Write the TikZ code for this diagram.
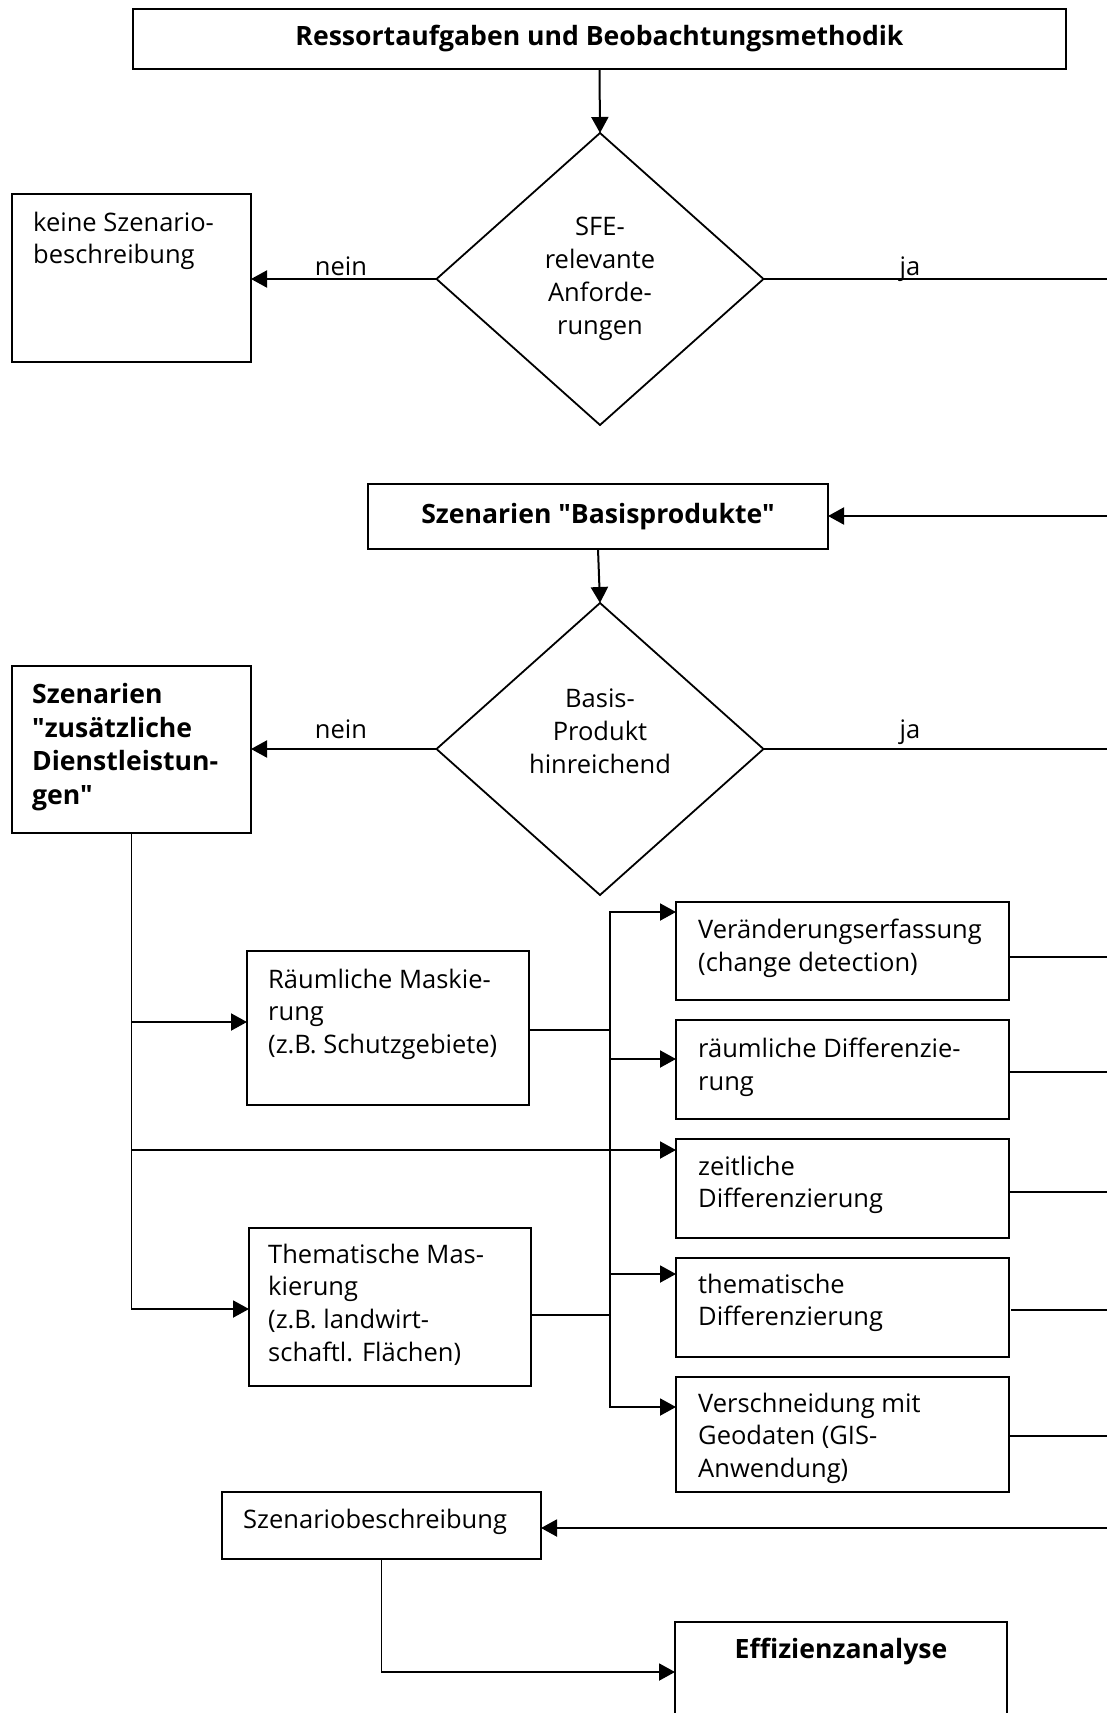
\documentclass[tikz,border=0pt]{standalone}
\usepackage{fontspec}
\setmainfont{Open Sans}[Ligatures=TeXOff]
\usetikzlibrary{shapes.geometric,arrows.meta,calc}
\newcommand\fsn{\fontsize{25.5}{32.8}\selectfont}
\newcommand\fsb{\fontsize{26.6}{33.5}\selectfont\bfseries}
\begin{document}
\begin{tikzpicture}[x=1pt,y=-1pt,
  box/.style={draw, line width=2pt, inner sep=0pt, outer sep=0pt, anchor=north west},
  dia/.style={draw, diamond, line width=1.8pt, inner sep=0pt, outer sep=0pt},
  txt/.style={anchor=north west, inner sep=0pt, align=left, font=\fsn, execute at begin node=\strut},
  ctxt/.style={anchor=north, inner sep=0pt, align=center, font=\fsn, execute at begin node=\strut},
  lbl/.style={anchor=base, inner sep=0pt, font=\fsn},
  ln/.style={line width=2pt, line cap=rect},
  thin/.style={line width=1.6pt, line cap=rect},
  arr/.style={line width=2pt, -{Triangle[length=16pt,width=17pt]}}]
\clip (0,0) rectangle (1107,1713);
\useasboundingbox (0,0) rectangle (1107,1713);
\fill[white] (0,0) rectangle (1107,1713);

% boxes
\node[box, minimum width=933pt, minimum height=60pt, font=\fsb] (T) at (133,9) {Ressortaufgaben und Beobachtungsmethodik};
\node[dia, minimum width=327pt, minimum height=292pt] (D1) at (600,279) {};
\node[box, minimum width=239pt, minimum height=168pt] (K) at (12,194) {};
\node[box, minimum width=460pt, minimum height=65pt, font=\fsb] (B) at (368,484) {Szenarien "Basisprodukte"};
\node[dia, minimum width=327pt, minimum height=292pt] (D2) at (600,749) {};
\node[box, minimum width=239pt, minimum height=167pt] (Z) at (12,666) {};
\node[box, minimum width=282pt, minimum height=154pt] (RM) at (247,951) {};
\node[box, minimum width=282pt, minimum height=158pt] (TM) at (249,1228) {};
\node[box, minimum width=333pt, minimum height=98pt] (V1) at (676,902) {};
\node[box, minimum width=333pt, minimum height=99pt] (V2) at (676,1020) {};
\node[box, minimum width=333pt, minimum height=99pt] (V3) at (676,1139) {};
\node[box, minimum width=333pt, minimum height=99pt] (V4) at (676,1258) {};
\node[box, minimum width=333pt, minimum height=115pt] (V5) at (676,1377) {};
\node[box, minimum width=319pt, minimum height=67pt] (S) at (222,1492) {};
\node[box, minimum width=332pt, minimum height=150pt] (E) at (675,1622) {};

% texts
\node[txt] (Kt) at ($(K.north west)+(21,17.5)$) {keine Szenario-\\beschreibung};
\node[ctxt] (D1t) at ($(D1.center)+(0,-61.8)$) {SFE-\\relevante\\Anforde-\\rungen};
\node[ctxt] (D2t) at ($(D2.center)+(0,-60.5)$) {Basis-\\Produkt\\hinreichend};
\node[txt, font=\fsb] (Zt) at ($(Z.north west)+(20,17.5)$) {Szenarien\\"zusätzliche\\Dienstleistun-\\gen"};
\node[txt] (RMt) at ($(RM.north west)+(21,17.5)$) {Räumliche Maskie-\\rung\\(z.B. Schutzgebiete)};
\node[txt] (TMt) at ($(TM.north west)+(19,15.5)$) {Thematische Mas-\\kierung\\(z.B. landwirt-\\schaftl. Flächen)};
\node[txt] (V1t) at ($(V1.north west)+(22,16.5)$) {Veränderungserfassung\\(change detection)};
\node[txt] (V2t) at ($(V2.north west)+(22,17.5)$) {räumliche Differenzie-\\rung};
\node[txt] (V3t) at ($(V3.north west)+(22,16.5)$) {zeitliche\\Differenzierung};
\node[txt] (V4t) at ($(V4.north west)+(22,15.5)$) {thematische\\Differenzierung};
\node[txt] (V5t) at ($(V5.north west)+(22,15.5)$) {Verschneidung mit\\Geodaten (GIS-\\Anwendung)};
\node[txt] (St) at ($(S.north west)+(21,13)$) {Szenariobeschreibung};
\node[lbl, font=\fsb] (Et) at (841,1658) {Effizienzanalyse};

\node[lbl] (n1) at (341,275) {nein};
\node[lbl] (j1l) at (910,275) {ja};
\node[lbl] (n2) at (341,738) {nein};
\node[lbl] (j2l) at (910,738) {ja};

% coordinates at right edge
\coordinate (j1) at (1110,278);
\coordinate (j2) at (1110,747);
\coordinate (bIn) at (1110,516);
\coordinate (o1) at (1110,957);
\coordinate (o2) at (1110,1072);
\coordinate (o3) at (1110,1192);
\coordinate (o4) at (1110,1310);
\coordinate (o5) at (1110,1436);
\coordinate (sIn) at (1110,1528);

% entry points
\coordinate (bx) at (610,0);
\coordinate (v1in) at ($(V1.north west)+(0,10)$);
\coordinate (v2in) at ($(V2.north west)+(0,39)$);
\coordinate (v3in) at ($(V3.north west)+(0,11)$);
\coordinate (v4in) at ($(V4.north west)+(0,16)$);
\coordinate (v5in) at ($(V5.north west)+(0,30)$);
\coordinate (rmIn) at ($(RM.north west)+(0,71)$);
\coordinate (rmOut) at ($(RM.north east)+(0,79)$);
\coordinate (tmIn) at ($(TM.north west)+(0,81)$);
\coordinate (tmOut) at ($(TM.north east)+(0,87)$);
\coordinate (eIn) at ($(E.north west)+(0,50)$);

% connectors
\draw[arr] (T.south) -- (D1.north);
\draw[arr] (D1.west) -- (K.east |- D1.west);
\draw[ln] (D1.east) -- (j1 |- D1.east);
\draw[arr] (bIn) -- (B.east |- bIn);
\draw[arr] (B.south) -- (D2.north);
\draw[arr] (D2.west) -- (Z.east |- D2.west);
\draw[ln] (D2.east) -- (j2 |- D2.east);

\draw[thin] (Z.south) -- (Z.south |- tmIn);
\draw[arr] (Z.south |- tmIn) -- (tmIn);
\draw[arr] (Z.south |- rmIn) -- (rmIn);
\draw[arr] (Z.south |- v3in) -- (v3in);

\draw[ln] (rmOut) -- (bx |- rmOut);
\draw[ln] (tmOut) -- (bx |- tmOut);
\draw[thin] (bx |- v1in) -- (bx |- v5in);
\draw[arr] (bx |- v1in) -- (v1in);
\draw[arr] (bx |- v2in) -- (v2in);
\draw[arr] (bx |- v4in) -- (v4in);
\draw[arr] (bx |- v5in) -- (v5in);

\draw[ln] (V1.east |- o1) -- (o1);
\draw[ln] (V2.east |- o2) -- (o2);
\draw[ln] (V3.east |- o3) -- (o3);
\draw[ln] ($(V4.east |- o4)+(3,0)$) -- (o4);
\draw[ln] (V5.east |- o5) -- (o5);

\draw[arr] (sIn) -- (S.east |- sIn);
\draw[thin] (S.south) -- (S.south |- eIn);
\draw[arr] (S.south |- eIn) -- (eIn);
\end{tikzpicture}
\end{document}
